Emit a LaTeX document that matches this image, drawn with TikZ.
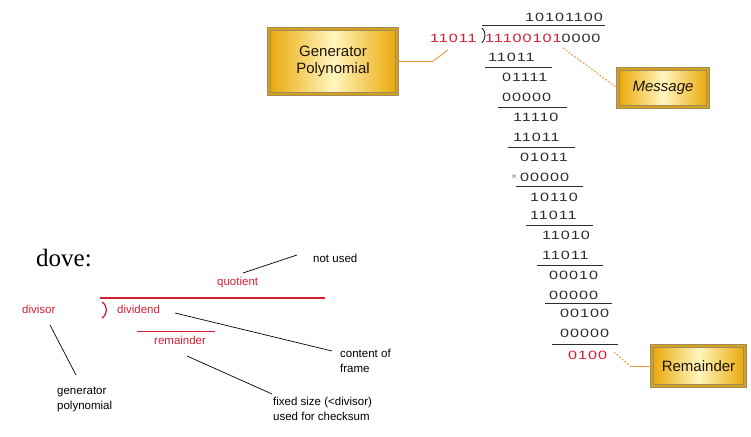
\documentclass[tikz,border=0pt]{standalone}
\usepackage{fontspec}
\setmainfont{Liberation Sans}
\newfontfamily\dovefont{Liberation Serif}
\newfontfamily\digitfont[FakeStretch=1.35,LetterSpace=8]{Liberation Sans}
\definecolor{cred}{RGB}{212,30,52}
\definecolor{cdig}{RGB}{45,45,45}
\definecolor{corange}{RGB}{232,150,60}
\definecolor{gold1}{RGB}{234,168,8}
\definecolor{gold2}{RGB}{255,246,190}
\definecolor{gframe}{RGB}{160,140,90}
\definecolor{cmark}{RGB}{70,110,170}
\begin{document}
\begin{tikzpicture}[x=1pt,y=-1pt,
  dig/.style={font=\digitfont\fontsize{12}{12}\selectfont, text=cdig, inner sep=0, anchor=west},
  rdig/.style={dig, text=cred},
  rule/.style={draw=cdig, line width=1pt},
  lbl/.style={font=\fontsize{11.5}{15}\selectfont, inner sep=0, align=left, text=black},
  rlbl/.style={lbl, text=cred},
  pointer/.style={draw=black, line width=0.7pt},
  lead/.style={draw=corange, line width=0.9pt},
  gbox/.style={draw=gframe, line width=1.2pt, double=gold1!70!gframe, double distance=1.5pt,
    left color=gold1, right color=gold1, middle color=gold2, text=black!85!brown, align=center,
    inner sep=2pt, font=\fontsize{15}{17}\selectfont}
]
\useasboundingbox (0,0) rectangle (751,436);

% ---- long division ----
\node[dig] (q) at (525,17) {10101100};
\node[rdig] (dv) at (430,38) {11011};
\node[dig] (dd) at (485,38) {\textcolor{cred}{11100101}0000};
\draw[rule] (482,26) -- (605,26);
\draw[rule] (482,28) .. controls (486,32) and (486,38) .. (482,43);
\node[dig] (r1) at (488,57) {11011};
\draw[rule] (485,67) -- (552,67);
\node[dig] (r2) at (502,77) {01111};
\node[dig] (r3) at (502,97) {00000};
\draw[rule] (498,107) -- (567,107);
\node[dig] (r4) at (513,117) {11110};
\node[dig] (r5) at (513,137) {11011};
\draw[rule] (508,147) -- (575,147);
\node[dig] (r6) at (520,157) {01011};
\node[inner sep=0, font=\fontsize{8.5}{8.5}\selectfont, text=cmark] (xm) at (514,177) {×};
\node[dig] (r7) at (520,177) {00000};
\draw[rule] (516,186) -- (583,186);
\node[dig] (r8) at (530,197) {10110};
\node[dig] (r9) at (530,215) {11011};
\draw[rule] (526,225) -- (593,225);
\node[dig] (r10) at (542,235) {11010};
\node[dig] (r11) at (542,255) {11011};
\draw[rule] (537,265) -- (603,265);
\node[dig] (r12) at (549,275) {00010};
\node[dig] (r13) at (549,295) {00000};
\draw[rule] (545,303) -- (612,303);
\node[dig] (r14) at (560,313) {00100};
\node[dig] (r15) at (560,333) {00000};
\draw[rule] (552,344) -- (618,344);
\node[rdig] (rem) at (568,355) {0100};

% ---- callout boxes ----
\node[gbox, minimum width=128, minimum height=65] (gp) at (333,61.5) {Generator\\Polynomial};
\node[gbox, minimum width=90, minimum height=38, font=\itshape\fontsize{15}{17}\selectfont] (msg) at (663,88) {Message};
\node[gbox, minimum width=93, minimum height=40] (rbox) at (698.5,366) {Remainder};

\coordinate (gpend) at (448,50);
\draw[lead] (gp.east) -- ++(35,0) -- (gpend);
\coordinate (msgstart) at (563,48);
\draw[lead, dash pattern=on 2pt off 1.5pt] (msgstart) -- (msg.west);
\coordinate (remstart) at (614,352);
\coordinate (rembend) at (630,366);
\draw[lead, dash pattern=on 2pt off 1.5pt] (remstart) -- (rembend);
\draw[lead] (rembend) -- (rbox.west);

% ---- legend ----
\node[font=\dovefont\fontsize{25}{25}\selectfont, anchor=base west, inner sep=0] (dove) at (36,266) {dove:};
\node[lbl, anchor=west] (nu) at (313,258) {not used};
\node[rlbl, anchor=west] (quo) at (217,283) {quotient};
\draw[cred, line width=2pt] (100,298) -- (325,298);
\draw[cred, line width=1.3pt] (102,302) .. controls (108,306) and (108,314) .. (102,318);
\node[rlbl, anchor=west] (divs) at (22,309) {divisor};
\node[rlbl, anchor=west] (divd) at (117,309) {dividend};
\draw[cred, line width=0.8pt] (137,331) -- (215,331);
\node[rlbl, anchor=west] (remd) at (154,340) {remainder};
\node[lbl, anchor=north west] (gpn) at (57,387) {generator\\polynomial};
\node[lbl, anchor=north west] (cof) at (340,349) {content of\\frame};
\node[lbl, anchor=north west] (fs) at (273,397) {fixed size (<divisor)\\used for checksum};

\coordinate (a1) at (297,255); \coordinate (a2) at (243,273);
\draw[pointer] (a1) -- (a2);
\coordinate (b1) at (50,325); \coordinate (b2) at (76,375);
\draw[pointer] (b1) -- (b2);
\coordinate (c1) at (175,313); \coordinate (c2) at (332,351);
\draw[pointer] (c1) -- (c2);
\coordinate (d1) at (187,356); \coordinate (d2) at (272,394);
\draw[pointer] (d1) -- (d2);
\end{tikzpicture}
\end{document}
